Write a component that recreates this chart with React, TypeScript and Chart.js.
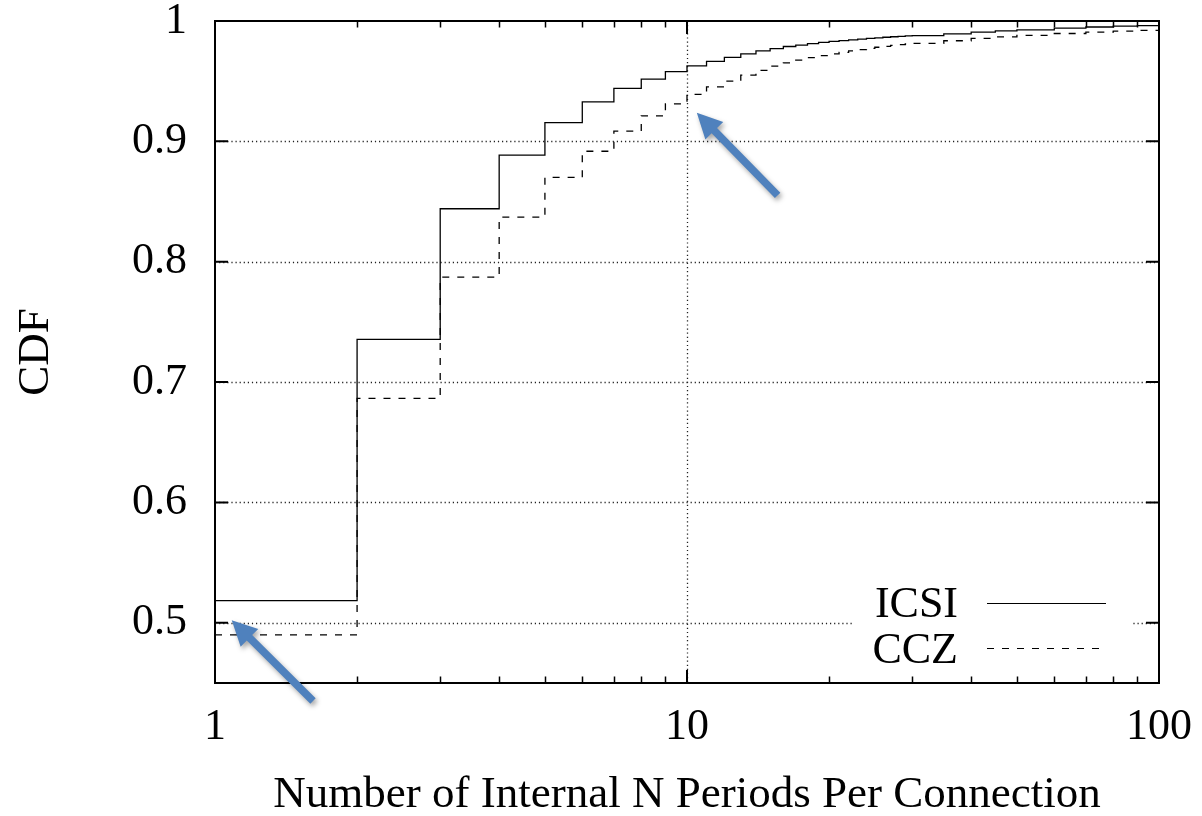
import React, { useEffect, useRef } from "react";
import { Chart, registerables } from "chart.js";

Chart.register(...registerables);

// ---- data ----
const xValues = [
  1, 2, 3, 4, 5, 6, 7, 8, 9, 10, 11, 12, 13, 14, 15, 16, 17, 18, 19, 20,
  21, 22, 23, 24, 25, 26, 27, 28, 29, 30, 35, 40, 45, 50, 60, 70, 80, 90, 100,
];
const icsiValues = [
  0.5185, 0.7355, 0.844, 0.8885, 0.9155, 0.9328, 0.944, 0.9517, 0.958, 0.9628,
  0.9665, 0.9698, 0.9727, 0.9752, 0.977, 0.9788, 0.98, 0.9812, 0.9822, 0.983,
  0.9837, 0.9844, 0.985, 0.9855, 0.986, 0.9865, 0.9869, 0.9873, 0.9876, 0.9879,
  0.9893, 0.9908, 0.9918, 0.9927, 0.994, 0.995, 0.9957, 0.9962, 0.9966,
];
const cczValues = [
  0.49, 0.6865, 0.7872, 0.837, 0.87, 0.8918, 0.9085, 0.9212, 0.9312, 0.939,
  0.9453, 0.95, 0.955, 0.959, 0.9625, 0.9652, 0.9675, 0.9695, 0.9712, 0.9727,
  0.974, 0.9752, 0.9763, 0.9773, 0.9782, 0.979, 0.9797, 0.9803, 0.9809, 0.9814,
  0.9836, 0.9855, 0.9868, 0.988, 0.9896, 0.9907, 0.9916, 0.9922, 0.9928,
];
const seriesNames = ["ICSI", "CCZ"];
const xTickValues = [1, 10, 100];
const xMinorTicks = [2, 3, 4, 5, 6, 7, 8, 9, 20, 30, 40, 50, 60, 70, 80, 90];
const xGridValues = [10];
const yTickValues = [0.5, 0.6, 0.7, 0.8, 0.9, 1];
const yGridValues = [0.5, 0.6, 0.7, 0.8, 0.9];
const xTitle = "Number of Internal N Periods Per Connection";
const yTitle = "CDF";
// annotation arrows in data coordinates: [tailX, tailY, tipX, tipY]
const arrows = [
  [1.613, 0.4351, 1.085, 0.5022],
  [15.56, 0.8552, 10.49, 0.9237],
];

const FONT = '"Liberation Serif", "Times New Roman", serif';
const FS = 44;
const TFS = 45;

function drawArrow(ctx: CanvasRenderingContext2D, x0: number, y0: number, x1: number, y1: number) {
  const dx = x1 - x0, dy = y1 - y0;
  const len = Math.hypot(dx, dy);
  const ux = dx / len, uy = dy / len;
  const px = -uy, py = ux;
  const headLen = 25, headW = 12.5, shaftW = 3.8;
  const bx = x1 - ux * headLen, by = y1 - uy * headLen;
  ctx.save();
  ctx.shadowColor = "rgba(0,0,0,0.35)";
  ctx.shadowBlur = 5;
  ctx.shadowOffsetX = 2;
  ctx.shadowOffsetY = 3;
  ctx.fillStyle = "#4f81bd";
  ctx.beginPath();
  ctx.moveTo(x0 + px * shaftW, y0 + py * shaftW);
  ctx.lineTo(bx + px * shaftW, by + py * shaftW);
  ctx.lineTo(bx + px * headW, by + py * headW);
  ctx.lineTo(x1, y1);
  ctx.lineTo(bx - px * headW, by - py * headW);
  ctx.lineTo(bx - px * shaftW, by - py * shaftW);
  ctx.lineTo(x0 - px * shaftW, y0 - py * shaftW);
  ctx.closePath();
  ctx.fill();
  ctx.restore();
}

const decorPlugin = {
  id: "decor",
  beforeDatasetsDraw(chart: any) {
    const { ctx, chartArea: a, scales } = chart;
    const x = scales.x, y = scales.y;
    ctx.save();
    ctx.strokeStyle = "#222";
    ctx.lineWidth = 1.3;
    ctx.setLineDash([1.2, 2.9]);
    for (const v of yGridValues) {
      const py = Math.round(y.getPixelForValue(v)) + 0.5;
      ctx.beginPath();
      ctx.moveTo(a.left, py);
      ctx.lineTo(a.right, py);
      ctx.stroke();
    }
    for (const v of xGridValues) {
      const px = Math.round(x.getPixelForValue(v)) + 0.5;
      ctx.beginPath();
      ctx.moveTo(px, a.top);
      ctx.lineTo(px, a.bottom);
      ctx.stroke();
    }
    ctx.setLineDash([]);
    // legend background
    ctx.fillStyle = "#fff";
    ctx.fillRect(a.right - 307, a.bottom - 98, 280, 88);
    ctx.restore();
  },
  afterDatasetsDraw(chart: any) {
    const { ctx, chartArea: a, scales } = chart;
    const x = scales.x, y = scales.y;
    ctx.save();
    // border
    ctx.strokeStyle = "#000";
    ctx.lineWidth = 2;
    ctx.strokeRect(a.left, a.top, a.right - a.left, a.bottom - a.top);
    // ticks (inside)
    ctx.lineWidth = 2;
    ctx.beginPath();
    for (const v of yGridValues) {
      const py = y.getPixelForValue(v);
      ctx.moveTo(a.left, py); ctx.lineTo(a.left + 13, py);
      ctx.moveTo(a.right, py); ctx.lineTo(a.right - 13, py);
    }
    for (const v of xGridValues) {
      const px = x.getPixelForValue(v);
      ctx.moveTo(px, a.bottom); ctx.lineTo(px, a.bottom - 13);
      ctx.moveTo(px, a.top); ctx.lineTo(px, a.top + 13);
    }
    ctx.stroke();
    ctx.lineWidth = 1.5;
    ctx.beginPath();
    for (const v of xMinorTicks) {
      const px = Math.round(x.getPixelForValue(v)) + 0.5;
      ctx.moveTo(px, a.bottom); ctx.lineTo(px, a.bottom - 6.5);
      ctx.moveTo(px, a.top); ctx.lineTo(px, a.top + 6.5);
    }
    ctx.stroke();
    // legend
    ctx.font = `${FS}px ${FONT}`;
    ctx.fillStyle = "#000";
    ctx.textAlign = "right";
    ctx.textBaseline = "alphabetic";
    const tx = a.right - 201;
    ctx.fillText(seriesNames[0], tx, a.bottom - 66);
    ctx.fillText(seriesNames[1], tx, a.bottom - 20.5);
    ctx.lineWidth = 1.2;
    ctx.beginPath();
    ctx.moveTo(a.right - 172, a.bottom - 79.5);
    ctx.lineTo(a.right - 53, a.bottom - 79.5);
    ctx.stroke();
    ctx.setLineDash([7, 8]);
    ctx.beginPath();
    ctx.moveTo(a.right - 172, a.bottom - 34.5);
    ctx.lineTo(a.right - 53, a.bottom - 34.5);
    ctx.stroke();
    ctx.setLineDash([]);
    ctx.restore();
    // arrows
    for (const [tx0, ty0, tx1, ty1] of arrows) {
      drawArrow(ctx, x.getPixelForValue(tx0), y.getPixelForValue(ty0), x.getPixelForValue(tx1), y.getPixelForValue(ty1));
    }
  },
};

const zeroPadding = (s: any) => {
  s.paddingTop = 0;
  s.paddingBottom = 0;
  s.paddingLeft = 0;
  s.paddingRight = 0;
};

export default function App() {
  const ref = useRef<HTMLCanvasElement>(null);
  useEffect(() => {
    if (!ref.current) return;
    const chart = new Chart(ref.current, {
      type: "line",
      data: {
        datasets: [
          {
            label: seriesNames[0],
            data: xValues.map((v, i) => ({ x: v, y: icsiValues[i] })),
            borderColor: "#000",
            borderWidth: 1.3,
            pointRadius: 0,
            stepped: "before",
            fill: false,
          },
          {
            label: seriesNames[1],
            data: xValues.map((v, i) => ({ x: v, y: cczValues[i] })),
            borderColor: "#000",
            borderWidth: 1.3,
            borderDash: [7, 8],
            pointRadius: 0,
            stepped: "before",
            fill: false,
          },
        ],
      },
      options: {
        responsive: false,
        animation: false,
        events: [],
        layout: { padding: { top: 21, right: 43, left: 0, bottom: 0 } },
        plugins: { legend: { display: false }, tooltip: { enabled: false } },
        scales: {
          x: {
            type: "logarithmic",
            min: 1,
            max: 100,
            afterBuildTicks: (s: any) => {
              s.ticks = xTickValues.map((v) => ({ value: v }));
            },
            afterFit: (s: any) => {
              s.height = 133;
              zeroPadding(s);
            },
            ticks: {
              autoSkip: false,
              maxRotation: 0,
              padding: 22,
              color: "#000",
              font: { family: FONT, size: FS, lineHeight: 1 },
              callback: (v: any) => String(v),
            },
            grid: { display: false, drawTicks: false },
            border: { display: false },
            title: {
              display: true,
              text: xTitle,
              color: "#000",
              font: { family: FONT, size: TFS, lineHeight: 0.91 },
              padding: 0,
            },
          },
          y: {
            type: "linear",
            min: 0.45,
            max: 1,
            afterBuildTicks: (s: any) => {
              s.ticks = yTickValues.map((v) => ({ value: v }));
            },
            afterFit: (s: any) => {
              s.width = 215;
              zeroPadding(s);
            },
            ticks: {
              padding: 28,
              color: "#000",
              font: { family: FONT, size: FS, lineHeight: 1 },
              callback: (v: any) => (v === 1 ? "1" : Number(v).toFixed(1)),
            },
            grid: { display: false, drawTicks: false },
            border: { display: false },
            title: {
              display: true,
              text: yTitle,
              color: "#000",
              font: { family: FONT, size: TFS, lineHeight: 1 },
              padding: { top: 14, bottom: 0 },
            },
          },
        },
      },
      plugins: [decorPlugin],
    });
    return () => chart.destroy();
  }, []);
  return (
    <div style={{ position: "absolute", left: 0, top: 0, width: 1202, height: 816, background: "#fff" }}>
      <canvas ref={ref} width={1202} height={816} />
    </div>
  );
}
